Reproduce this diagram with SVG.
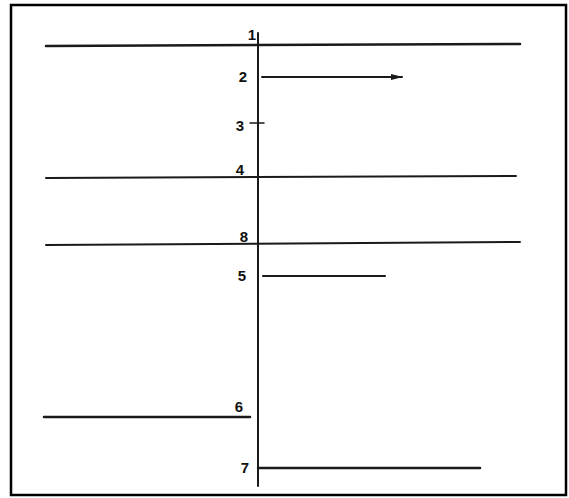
<svg xmlns="http://www.w3.org/2000/svg" width="569" height="498" viewBox="0 0 569 498">
<style>
.ln{stroke:#1a1a1a;stroke-width:2;fill:none;stroke-linecap:round}
.lb{font-family:"Liberation Sans",sans-serif;font-weight:bold;font-size:15px;fill:#111;text-anchor:middle}
</style>
<defs>
<marker id="ah" markerWidth="12" markerHeight="6" refX="11" refY="3" orient="auto" markerUnits="userSpaceOnUse">
<path d="M0,0 L12,3 L0,6 Z" fill="#1a1a1a"/>
</marker>
</defs>
<rect x="0" y="0" width="569" height="498" fill="#fff"/>
<rect x="11" y="5" width="555" height="490" fill="none" stroke="#000" stroke-width="2.5"/>
<g id="connectors">
<line class="ln" x1="258" y1="33" x2="258" y2="486"/>
<line class="ln" x1="46" y1="46" x2="520" y2="44" style="stroke-width:2.5"/>
<line class="ln" x1="262" y1="77" x2="402" y2="77" marker-end="url(#ah)"/>
<line class="ln" x1="250" y1="123" x2="264" y2="123" style="stroke-width:1.5"/>
<line class="ln" x1="46" y1="178" x2="516" y2="176"/>
<line class="ln" x1="46" y1="245" x2="520" y2="242"/>
<line class="ln" x1="263" y1="276" x2="385" y2="276"/>
<line class="ln" x1="44" y1="417" x2="250" y2="417" style="stroke-width:2.5"/>
<line class="ln" x1="258" y1="468" x2="480" y2="468" style="stroke-width:2.5"/>
</g>
<g id="n1"><text class="lb" x="252" y="40">1</text></g>
<g id="n2"><text class="lb" x="243" y="82">2</text></g>
<g id="n3"><text class="lb" x="240" y="131">3</text></g>
<g id="n4"><text class="lb" x="240" y="175">4</text></g>
<g id="n8"><text class="lb" x="244" y="242">8</text></g>
<g id="n5"><text class="lb" x="242" y="281">5</text></g>
<g id="n6"><text class="lb" x="239" y="412">6</text></g>
<g id="n7"><text class="lb" x="245" y="473">7</text></g>
</svg>
